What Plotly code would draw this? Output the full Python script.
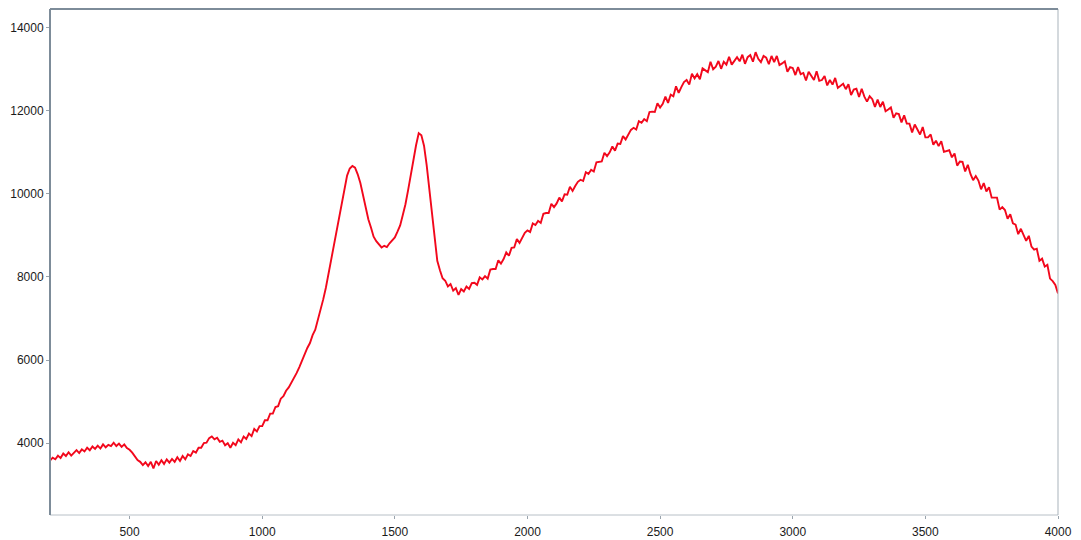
import plotly.graph_objects as go

wavenumber = list(range(200, 4001, 10))

intensity = [
    # 200-490
    3580, 3650, 3610, 3700, 3640, 3750, 3690, 3780, 3700, 3770,
    3830, 3760, 3850, 3800, 3890, 3830, 3920, 3860, 3940, 3870,
    3970, 3900, 3960, 3930, 4010, 3930, 3990, 3910, 3970, 3880,
    # 500-790
    3840, 3770, 3690, 3590, 3550, 3470, 3540, 3450, 3550, 3390,
    3570, 3480, 3590, 3500, 3610, 3530, 3620, 3550, 3660, 3570,
    3690, 3610, 3730, 3690, 3810, 3770, 3890, 3890, 4000, 4010,
    # 800-1090
    4120, 4160, 4090, 4130, 4030, 4060, 3950, 4000, 3890, 4010,
    3950, 4090, 4020, 4160, 4100, 4230, 4170, 4340, 4280, 4410,
    4410, 4550, 4550, 4710, 4710, 4870, 4890, 5070, 5130, 5260,
    # 1100-1390
    5340, 5450, 5550, 5690, 5830, 5990, 6110, 6290, 6410, 6600,
    6730, 6960, 7190, 7460, 7740, 8090, 8410, 8770, 9090, 9460,
    9790, 10160, 10440, 10610, 10670, 10630, 10470, 10260, 9970, 9690,
    # 1400-1690
    9390, 9190, 8970, 8860, 8770, 8710, 8750, 8720, 8810, 8890,
    8950, 9090, 9240, 9490, 9750, 10090, 10410, 10810, 11170, 11460,
    11410, 11160, 10690, 10110, 9440, 8860, 8390, 8160, 7970, 7910,
    # 1700-1990
    7770, 7830, 7670, 7730, 7570, 7710, 7650, 7770, 7710, 7850,
    7860, 7810, 7990, 7940, 8020, 7960, 8180, 8190, 8190, 8400,
    8320, 8430, 8590, 8510, 8700, 8710, 8910, 8820, 8950, 9060,
    # 2000-2290
    9120, 9080, 9290, 9250, 9350, 9300, 9520, 9540, 9540, 9760,
    9680, 9770, 9910, 9820, 9990, 9980, 10170, 10070, 10190, 10290,
    10340, 10310, 10520, 10480, 10580, 10540, 10760, 10770, 10780, 10990,
    # 2300-2590
    10910, 11000, 11140, 11040, 11210, 11200, 11390, 11310, 11430, 11540,
    11590, 11550, 11750, 11710, 11800, 11750, 11970, 11980, 11970, 12180,
    12080, 12170, 12340, 12190, 12390, 12350, 12590, 12430, 12570, 12690,
    # 2600-2890
    12740, 12630, 12890, 12780, 12880, 12760, 13020, 12970, 12930, 13180,
    13000, 13060, 13200, 13010, 13180, 13110, 13300, 13110, 13200, 13290,
    13190, 13350, 13130, 13290, 13340, 13180, 13410, 13250, 13170, 13320,
    # 2900-3190
    13280, 13120, 13320, 13170, 13320, 13100, 13140, 13190, 12940, 13050,
    13030, 12860, 13050, 12880, 12910, 12730, 12940, 12840, 12740, 12950,
    12720, 12740, 12840, 12610, 12740, 12630, 12790, 12550, 12610, 12650,
    # 3200-3490
    12520, 12640, 12380, 12510, 12530, 12330, 12530, 12340, 12220, 12350,
    12280, 12090, 12270, 12090, 12220, 11990, 12030, 12080, 11830, 11940,
    11920, 11720, 11890, 11690, 11690, 11480, 11670, 11550, 11430, 11610,
    # 3500-3790
    11360, 11360, 11430, 11180, 11280, 11150, 11270, 11010, 11030, 11050,
    10880, 10970, 10680, 10780, 10770, 10540, 10700, 10480, 10330, 10430,
    10320, 10110, 10260, 10060, 10160, 9910, 9910, 9910, 9620, 9680,
    # 3800-4000
    9610, 9400, 9510, 9290, 9260, 9030, 9160, 9020, 8870, 8990,
    8730, 8660, 8680, 8390, 8440, 8250, 8290, 7960, 7900, 7810,
    7600,
]

x_ticks = [500, 1000, 1500, 2000, 2500, 3000, 3500, 4000]
y_ticks = [4000, 6000, 8000, 10000, 12000, 14000]

n = min(len(wavenumber), len(intensity))

fig = go.Figure()
fig.add_trace(go.Scatter(
    x=wavenumber[:n], y=intensity[:n], mode="lines",
    line=dict(color="rgb(242,8,28)", width=1.9),
    hoverinfo="skip", showlegend=False,
))

axis_font = dict(family="Liberation Sans, Arial, sans-serif", size=12, color="#1a1a1a")

fig.update_layout(
    width=1081, height=540,
    margin=dict(l=50, r=23, t=9, b=25),
    paper_bgcolor="white", plot_bgcolor="white",
    xaxis=dict(range=[200, 4000], tickvals=x_ticks, ticktext=[str(v) for v in x_ticks],
               showgrid=False, zeroline=False, showline=False, automargin=False,
               ticks="outside", ticklen=3, tickcolor="#9aa4ad", tickfont=axis_font,
               ticklabelstandoff=3),
    yaxis=dict(range=[2270, 14450], tickvals=y_ticks, ticktext=[str(v) for v in y_ticks],
               showgrid=False, zeroline=False, showline=False, automargin=False,
               ticks="outside", ticklen=3, tickcolor="#9aa4ad", tickfont=axis_font),
    shapes=[
        dict(type="line", xref="paper", yref="paper", x0=0, x1=1, y0=0, y1=0,
             line=dict(color="#b8c0c7", width=1)),
        dict(type="line", xref="paper", yref="paper", x0=1, x1=1, y0=0, y1=1,
             line=dict(color="#a9b3bb", width=1)),
        dict(type="line", xref="paper", yref="paper", x0=0, x1=1, y0=1, y1=1,
             line=dict(color="#7d8c99", width=2)),
        dict(type="line", xref="paper", yref="paper", x0=0, x1=0, y0=0, y1=1,
             line=dict(color="#7d8c99", width=2)),
    ],
)

fig.write_html("out.html")
